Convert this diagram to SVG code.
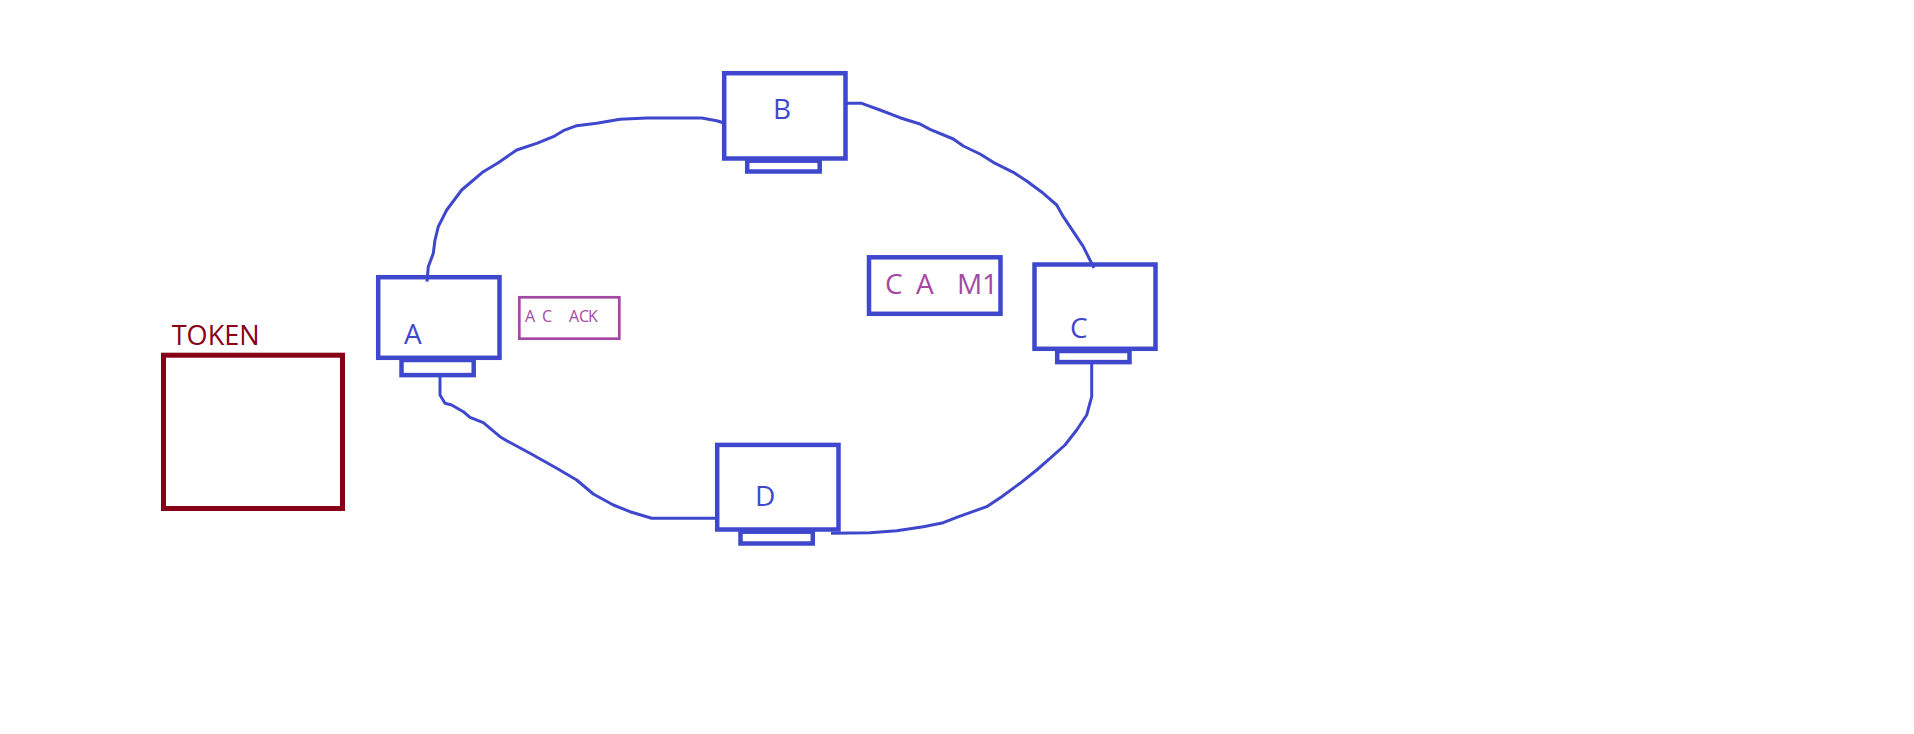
<svg xmlns="http://www.w3.org/2000/svg" width="1914" height="734" viewBox="0 0 1914 734">
<style>
.mon{fill:none;stroke:#3f48cc;stroke-width:4.5}
.lbl{font-family:"Open Sans","Liberation Sans",sans-serif;font-size:28px;fill:#3f48cc}
.wire{fill:none;stroke:#3f48cc;stroke-width:3;stroke-linejoin:round;stroke-linecap:butt}
.msg{font-family:"Open Sans","Liberation Sans",sans-serif;fill:#a349a4;white-space:pre}
</style>
<rect width="1914" height="734" fill="#ffffff"/>
<g id="connectors">
<polyline class="wire" points="427,281.7 428.3,266.7 433.3,253.3 435,240 438.3,226.7 446.7,210 461.7,190 483.3,171.7 498.3,162.7 516.7,150 536.7,143.3 553.3,136.7 563.3,130.7 576.7,125.7 596.7,123.3 620,119.3 646.7,118 701.7,118 716.7,120.7 723.3,122.7"/>
<polyline class="wire" points="846.7,103.3 861.7,103.3 880,110 900,117.7 920,124 930,129.3 953.3,139 963.3,146 980,154 993.3,162.3 1013.3,172.3 1026.7,181 1043.3,193.3 1056.7,205 1063.3,216.7 1073.3,231.7 1083.3,246.7 1094,268"/>
<polyline class="wire" points="1091.7,364 1091.7,396.7 1086.7,415 1076.7,430 1065,445 1050,458.3 1036.7,470 1020,483.3 1001.7,496.7 986.7,506.7 956.7,517.3 943.3,522.7 923.3,526.7 896.7,530.7 870,532.7 831,533.3"/>
<polyline class="wire" points="440,376 440,395 445,403.3 451.7,405 463.3,411.7 470,417.3 483.3,422.7 500,436.7 506.7,440.7 530,453.3 556.7,468.3 576.7,480 593.3,494 613.3,505 630,511.7 646.7,516.7 651.7,518.3 716.7,518.3"/>
</g>
<g id="node-A">
<rect class="mon" x="378.2" y="277.2" width="121.3" height="80.6"/>
<rect class="mon" x="401.5" y="360" width="72.2" height="15.1"/>
<text class="lbl" x="404" y="344">A</text>
</g>
<g id="node-B">
<rect class="mon" x="724.2" y="73.2" width="121.3" height="85.3"/>
<rect class="mon" x="747.2" y="160.7" width="72.5" height="10.8"/>
<text class="lbl" x="773" y="119">B</text>
</g>
<g id="node-C">
<rect class="mon" x="1034.5" y="264.5" width="121" height="84.3"/>
<rect class="mon" x="1057.2" y="351" width="72.3" height="11.1"/>
<text class="lbl" x="1070" y="338">C</text>
</g>
<g id="node-D">
<rect class="mon" x="717.2" y="444.9" width="121.3" height="84.6"/>
<rect class="mon" x="740.5" y="531.7" width="72.3" height="11.8"/>
<text class="lbl" x="755" y="506">D</text>
</g>
<g id="frame-CAM1">
<rect class="mon" x="869" y="257.3" width="131.5" height="56.5"/>
<text class="msg" font-size="28" x="885 904 910 916 935 942 949 957 982" y="294">C  A   M1</text>
</g>
<g id="frame-ACK">
<rect x="519.3" y="297.3" width="100" height="41.4" fill="none" stroke="#a349a4" stroke-width="2.7"/>
<text class="msg" font-size="16" x="525 536 542 552 558 564 569 579 588" y="321.7">A C   ACK</text>
</g>
<g id="token">
<text x="171.7" y="344.7" font-family="'Open Sans','Liberation Sans',sans-serif" font-size="28" fill="#880015" textLength="88" lengthAdjust="spacingAndGlyphs">TOKEN</text>
<rect x="163.5" y="355.2" width="179" height="153.3" fill="none" stroke="#880015" stroke-width="5"/>
</g>
</svg>
